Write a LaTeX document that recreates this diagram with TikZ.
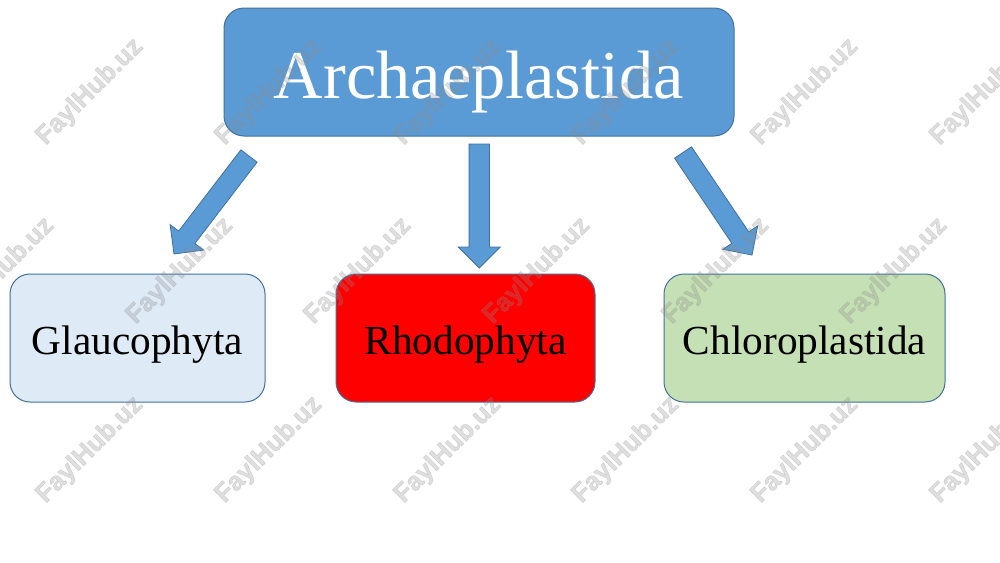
\documentclass[tikz,border=0pt]{standalone}
\usepackage{fontspec}
\setmainfont{Liberation Serif}
\newfontfamily\wmfont{Liberation Sans}[FakeBold=2]
\usetikzlibrary{calc}
\definecolor{topblue}{HTML}{5B9BD5}
\definecolor{edgeblue}{HTML}{41719C}
\definecolor{paleblue}{HTML}{DEEAF6}
\definecolor{palegreen}{HTML}{C5E0B4}
\tikzset{
  box/.style={draw=edgeblue,line width=1pt,rounded corners=20pt,inner sep=0pt,
    minimum height=128pt,text=black,font=\fontsize{41.3}{48}\selectfont},
  blockarrow/.style={fill=topblue,draw=edgeblue,line width=.8pt,line join=miter},
  wm/.style={font=\wmfont\bfseries\fontsize{26}{30}\selectfont,rotate=45,
    text=black!45,text opacity=.27,inner sep=0pt}
}
\newcommand{\lowered}[2]{\raisebox{-#1}[0pt][0pt]{#2}}
\newcommand{\blockarrow}[2]{%
  \coordinate (neck) at ($(#2)!21pt!(#1)$);
  \draw[blockarrow]
    ($(#1)!10.2pt!90:(#2)$) -- ($(neck)!10.2pt!90:(#2)$) --
    ($(neck)!21pt!90:(#2)$) -- (#2) -- ($(neck)!21pt!-90:(#2)$) --
    ($(neck)!10.2pt!-90:(#2)$) -- ($(#1)!10.2pt!-90:(#2)$) -- cycle;}
\begin{document}
\begin{tikzpicture}[x=1pt,y=-1pt]
\useasboundingbox (0,0) rectangle (1000,562);
\fill[white] (0,0) rectangle (1000,562);
\node[box,fill=topblue,minimum width=510pt,text=white,font=\fontsize{68.4}{80}\selectfont] (top) at (479,72) {\lowered{26pt}{Archaeplastida}};
\node[box,fill=paleblue,minimum width=255pt] (glau) at (137.5,338) {\lowered{16pt}{Glaucophyta}};
\node[box,fill=red,minimum width=259pt] (rhodo) at (465.5,338) {\lowered{16pt}{Rhodophyta}};
\node[box,fill=palegreen,minimum width=281pt] (chloro) at (804.5,338) {\lowered{16pt}{Chloroplastida}};
\coordinate (t1) at (249,156);
\coordinate (h1) at (174,254);
\coordinate (t2) at (479.3,144);
\coordinate (h2) at (479.3,268);
\coordinate (t3) at (683,152.5);
\coordinate (h3) at (752,255);
\blockarrow{t1}{h1}
\blockarrow{t2}{h2}
\blockarrow{t3}{h3}
\foreach \y [count=\r] in {92,450}{
  \foreach \x [count=\c] in {90,269,448,626,805,984}{
    \node[wm] (wa\r\c) at (\x,\y) {FaylHub.uz};
  }
}
\foreach \x [count=\c] in {1,180,358,537,716,894}{
  \node[wm] (wb\c) at (\x,271) {FaylHub.uz};
}
\end{tikzpicture}
\end{document}
